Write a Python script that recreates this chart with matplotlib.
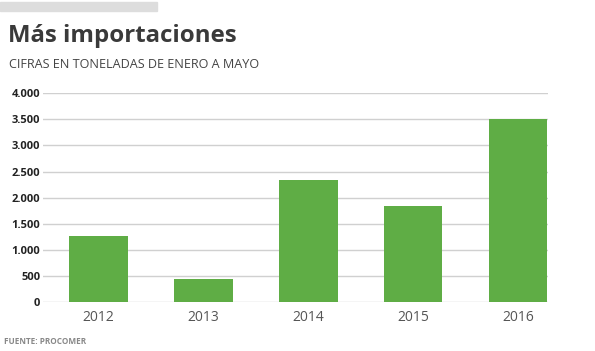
import matplotlib.pyplot as plt
from matplotlib.patches import Rectangle

anios = ['2012', '2013', '2014', '2015', '2016']
toneladas = [1270, 440, 2345, 1845, 3500]
ticks_y = [0, 500, 1000, 1500, 2000, 2500, 3000, 3500, 4000]
etiquetas_y = ['0', '500', '1.000', '1.500', '2.000', '2.500', '3.000', '3.500', '4.000']

plt.rcParams['font.family'] = ['Open Sans', 'DejaVu Sans']

fig = plt.figure(figsize=(5.95, 3.51), dpi=100)
W, H = 595, 351

# barra gris superior
fig.patches.append(Rectangle((0, 1 - 11 / H), 157 / W, 9 / H, transform=fig.transFigure,
                             color='#dddddd', zorder=0))

fig.text(8 / W, 1 - 42 / H, 'Más importaciones', fontsize=17.3, fontweight='bold',
         color='#3a3a3a', ha='left', va='baseline')
fig.text(9 / W, 1 - 68 / H, 'CIFRAS EN TONELADAS DE ENERO A MAYO', fontsize=9.1,
         color='#444444', ha='left', va='baseline')
fig.text(4 / W, 1 - 344 / H, 'FUENTE: PROCOMER', fontsize=5.9, fontweight='bold',
         color='#888888', ha='left', va='baseline')

ax = fig.add_axes([43 / W, 1 - 302 / H, (548 - 43) / W, (302 - 93.3) / H])
x = range(len(anios))
ax.bar(x, toneladas, width=0.56, color='#5fad45', zorder=3)

ax.set_ylim(0, 4000)
ax.set_xlim(-0.529, 4.286)
ax.set_yticks(ticks_y)
ax.set_yticklabels(etiquetas_y, fontsize=8, fontweight='bold', color='#222222')
ax.set_xticks(list(x))
ax.set_xticklabels(anios, fontsize=10, color='#555555')
ax.tick_params(axis='both', length=0)
ax.tick_params(axis='y', pad=2)
ax.tick_params(axis='x', pad=6)
ax.grid(axis='y', color='#d0d0d0', linewidth=1, zorder=0)
for s in ax.spines.values():
    s.set_visible(False)

fig.savefig('out.png', dpi=100)
